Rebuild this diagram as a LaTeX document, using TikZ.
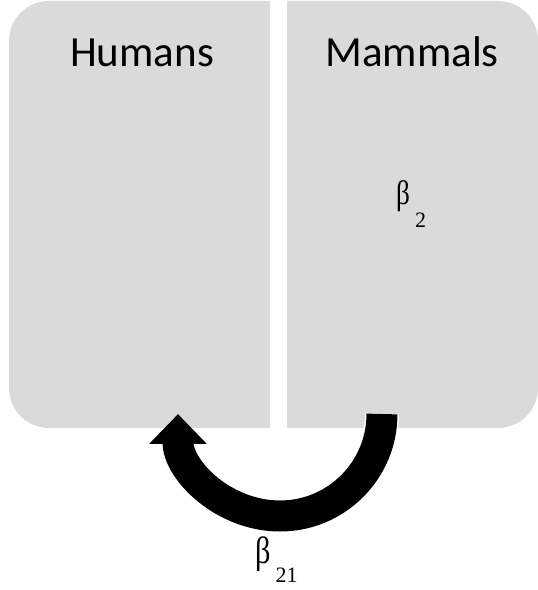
\documentclass[tikz,border=0pt]{standalone}
\usepackage{fontspec}
\setmainfont{Carlito}
\newfontfamily\symfont{Liberation Serif}
\usetikzlibrary{positioning,arrows.meta,bending}
\definecolor{panelgray}{HTML}{DADADA}
\newcommand{\betarate}[3]{{\symfont\fontsize{#1}{#1}\selectfont\scalebox{0.8}[1]{β}}\hspace{5pt}\raisebox{-#2}{\symfont\fontsize{22}{22}\selectfont #3}}

\begin{document}
\begin{tikzpicture}[x=1pt,y=1pt,
	panel/.style={fill=panelgray},
	title/.style={font=\fontsize{43}{43}\selectfont, anchor=base, inner sep=0pt},
	rate/.style={anchor=base west, inner sep=0pt},
	flow/.style={line width=31pt, -{Triangle[width=56pt,length=30pt,quick]},
		preaction={draw=white, line width=34pt, -{Triangle[width=60pt,length=32pt,quick]}}}]
	\useasboundingbox (0,0) rectangle (538,590);
	\fill[panel] (270,589) [rounded corners=40pt] -- (9,589) -- (9,162) [sharp corners] -- (270,162) -- cycle;
	\fill[panel] (287,589) [rounded corners=40pt] -- (538,589) -- (538,162) [sharp corners] -- (287,162) -- cycle;
	\node[title] (humans) at (142,523) {Humans};
	\node[title] (mammals) at (412,523) {Mammals};
	\node[rate] (b2) at (396,385) {\betarate{34}{23pt}{2}};
	\coordinate (tail) at (382,176);
	\draw[flow] (tail) arc[start angle=0, end angle=-180, radius=102pt] coordinate (tip);
	\node[rate] (b21) at (255,27) {\betarate{38}{20pt}{21}};
\end{tikzpicture}
\end{document}
